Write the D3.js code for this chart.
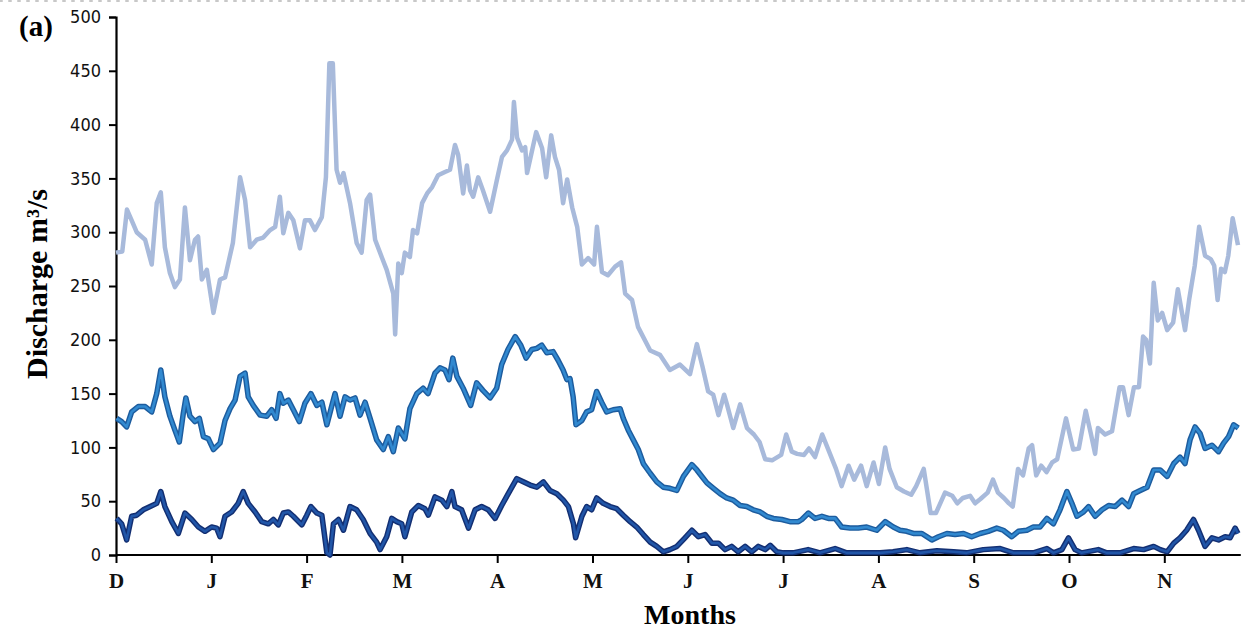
<!DOCTYPE html>
<html>
<head>
<meta charset="utf-8">
<script src="https://cdn.jsdelivr.net/npm/d3@7"></script>
<style>
  body { margin: 0; background: #fff; }
  svg { display: block; }
</style>
</head>
<body>
<svg id="chart"></svg>
<script>
// month tick labels, Dec .. Nov
const months = ["D", "J", "F", "M", "A", "M", "J", "J", "A", "S", "O", "N"];
const yTicks = [0, 50, 100, 150, 200, 250, 300, 350, 400, 450, 500];

// [day since 1 Dec, discharge m3/s]
const upperSeries = [
  [0,281],[2,282],[3.5,321],[5,311],[6.6,300],[9.3,293],[11.4,270],[13,327],[14.3,337],[15.6,286],
  [17.2,262],[18.8,249],[20.4,256],[22,323],[23.6,274],[25.2,293],[26.2,296],[27.4,256],[29,265],
  [31.1,225],[33.2,256],[34.8,258],[37.3,290],[39.6,351],[41.2,330],[42.8,286],[44.9,293],[47,295],
  [49.2,302],[50.8,305],[52.3,333],[53.4,299],[55,318],[56.6,311],[58.7,285],[60.3,311],[61.9,311],
  [63.5,302],[65.7,314],[67,351],[68.1,457],[69.2,457],[70.4,358],[71.5,346],[72.6,355],[74.7,327],
  [76.8,290],[78.4,281],[80,330],[81.1,335],[82.7,293],[84.8,277],[86.4,265],[88.5,243],[89.1,205],
  [90.1,271],[91.2,262],[92.2,281],[93.8,277],[94.8,302],[96.1,299],[97.7,327],[99.3,336],[100.9,342],
  [102.8,353],[105,356],[106.6,358],[108.2,381],[109.2,372],[110.8,336],[112,362],[113,339],[114,333],
  [115.6,351],[117.1,339],[119.4,319],[121.6,349],[123.2,370],[124.8,376],[126.4,386],[127,421],
  [128,388],[129.6,376],[130.6,379],[131.2,355],[132.8,376],[134.1,393],[136,378],[137.3,351],
  [138.9,390],[140.1,370],[141.4,358],[142.7,327],[144,349],[145.6,323],[147.2,305],[148.7,270],
  [150.7,276],[152.6,270],[153.5,305],[155.1,263],[157,260],[159.3,268],[161.2,272],[162.5,243],
  [164.7,237],[166.6,212],[170.5,190],[173.6,186],[176.8,172],[180,177],[183.2,168],[185.4,196],
  [187.2,175],[189,152],[190.6,149],[192.3,130],[194.1,149],[195,140],[197,118],[199.2,140],[201.4,118],
  [203.6,112],[205.4,105],[207.2,89],[209.4,88],[212.3,93],[213.9,112],[215.7,96],[217.4,94],[219.6,93],
  [221.2,99],[223.1,91],[225.4,112],[227.6,96],[229.8,80],[231.6,64],[233.8,83],[235.6,70],[237.8,83],
  [239.6,64],[241.8,86],[243.5,66],[245.5,100],[246.9,80],[249.2,63],[251.5,59],[253.8,56],[255.4,64],
  [257.8,80],[260,39],[261.7,39],[264.6,58],[266.9,55],[268.5,48],[270.3,53],[272.6,55],[274.2,48],
  [275.9,52],[278.2,58],[279.9,70],[281.5,58],[283.4,53],[285,48],[286.2,45],[287.9,80],[289.5,74],
  [291.3,99],[292.4,102],[293.7,74],[295.3,83],[297,77],[298.8,86],[300.4,89],[303.2,127],[305.5,98],
  [307.3,99],[309.5,134],[311.2,112],[312.5,94],[313.4,118],[315.7,112],[317.9,115],[320.3,156],
  [321.4,156],[323.2,130],[324.9,156],[326.5,156],[327.8,203],[328.8,200],[330,178],[331.2,253],
  [332.5,218],[333.9,225],[335.5,209],[337.4,216],[338.9,247],[341.2,209],[342.5,237],[344.3,269],
  [345.7,305],[347.6,278],[349.4,275],[350.5,269],[351.6,237],[352.7,266],[353.9,263],[355,278],
  [356.4,313],[358.1,288]
];

const middleSeries = [
  [0.2,127],[1.8,124],[3.4,119],[5,133],[7.1,138],[9.3,138],[11.4,133],[13,150],[14.3,172],[15.6,147],
  [17.2,129],[18.8,116],[20.2,105],[21.5,132],[22.3,146],[23.6,129],[25.2,124],[26.6,127],[27.9,110],
  [29.5,108],[31.1,98],[33.2,104],[34.8,125],[36.4,136],[38,144],[39.6,166],[41.2,169],[42.2,147],
  [43.8,139],[46,130],[48.1,129],[49.7,135],[51.1,127],[52.3,150],[53.4,141],[55,144],[56.6,135],
  [58.5,124],[60.3,141],[62.2,150],[64.1,139],[65.7,142],[67.3,121],[68.9,139],[69.9,150],[71.5,129],
  [73.1,147],[74.7,144],[76.3,146],[77.9,130],[79.5,142],[81.1,127],[83.2,107],[85.3,98],[86.9,110],
  [88.5,96],[90.1,118],[92.2,108],[93.8,136],[96,150],[98,155],[99.6,150],[101.8,169],[103.4,174],
  [105,172],[106.3,163],[107.5,183],[108.8,166],[110.8,155],[113.2,139],[115.1,160],[117.1,153],
  [119.4,146],[121.5,155],[123.1,177],[125.1,191],[127.4,203],[129.2,195],[130.9,183],[132.7,191],
  [134.3,192],[135.9,195],[137.5,188],[139.5,189],[141.1,181],[142.7,172],[143.9,163],[144.9,164],
  [145.9,147],[146.8,121],[148.7,125],[150.2,133],[151.8,135],[153.4,152],[155,142],[156.6,133],
  [158.7,135],[160.9,136],[161.9,127],[163.5,116],[165.1,107],[166.7,98],[168.3,85],[170.5,76],
  [172.6,68],[174.7,63],[176.8,62],[179,60],[181.1,73],[183.8,84],[185.4,79],[187,73],[188.6,67],
  [190.7,62],[192.8,57],[194.9,53],[197,51],[199.2,46],[201.3,45],[203.4,42],[205.6,40],[207.7,36],
  [209.8,34],[212.5,33],[215.1,31],[217.8,31],[218.9,33],[221,39],[223.1,34],[225.3,36],[227.4,34],
  [229.5,34],[231.6,26],[234.3,25],[236.9,25],[239.6,26],[242.8,23],[245.5,31],[248.1,26],[250.2,23],
  [252.4,22],[254.5,20],[257.2,20],[260.4,14],[262.5,17],[265.2,20],[267.8,19],[270.5,20],[273.1,17],
  [275.8,20],[278.4,22],[281.1,25],[283.2,23],[285.9,17],[288,22],[290.7,23],[292.8,26],[294.9,26],
  [297.1,34],[299.2,29],[301.3,42],[303.5,59],[305.1,48],[306.7,36],[308.8,40],[310.4,45],[312.5,36],
  [314.7,42],[316.8,46],[318.9,45],[321.1,51],[323.2,45],[324.8,57],[326.9,60],[329.1,63],[331.2,79],
  [333.3,79],[335.5,73],[337.6,85],[339.6,91],[341.2,85],[342.8,107],[344.4,119],[346,113],[347.6,99],
  [349.8,102],[351.9,96],[353.5,104],[355.1,110],[356.7,121],[358.2,118]
];

const lowerSeries = [
  [0.2,34],[1.8,29],[3.4,14],[5,36],[6.6,37],[8.7,42],[10.9,45],[13,48],[14.3,59],[15.6,45],[17.8,31],
  [19.9,20],[22,39],[24.2,33],[26.3,26],[28.4,22],[30.5,26],[32.1,25],[33.2,17],[34.8,36],[36.9,40],
  [39,48],[40.6,59],[42.2,48],[44.4,40],[46.5,31],[48.6,29],[50.2,33],[51.8,28],[53.4,39],[55,40],
  [56.6,36],[59.3,28],[60.9,37],[62.2,45],[64.1,39],[65.7,37],[67.3,2],[68.3,0],[69.4,29],[71,33],
  [72.6,23],[74.7,45],[76.8,42],[78.9,33],[81.1,20],[83.2,12],[84.3,5],[86.4,17],[88,34],[89.6,31],
  [91.2,29],[92.2,17],[94.4,40],[96.5,46],[98.6,43],[99.7,37],[101.8,54],[104,51],[105.6,45],[107.2,59],
  [108.2,45],[110.3,42],[112.5,25],[114.6,42],[116.7,45],[118.8,42],[121,34],[123.1,46],[125.2,57],
  [127.9,71],[130,68],[132.2,65],[134.3,63],[136.4,68],[138.5,60],[140.7,57],[142.8,51],[144.4,45],
  [146,29],[146.7,16],[148.7,36],[150.2,45],[151.8,42],[153.4,53],[155.5,48],[157.7,45],[159.8,43],
  [161.9,37],[164.1,31],[166.2,26],[168.3,19],[170.5,12],[172.6,8],[174.7,3],[176.8,5],[179,8],
  [181.6,16],[183.8,23],[185.9,17],[188,19],[190.2,11],[192.3,11],[194.4,5],[196.5,8],[198.6,3],
  [200.8,8],[202.9,3],[205,8],[207.2,5],[208.8,9],[210.9,3],[213,2],[216.1,2],[220.9,5],[224.7,2],
  [229.5,6],[233.2,2],[238.4,2],[243.9,2],[248,3],[252.4,5],[256.6,2],[262,4],[267.3,3],[271.5,2],
  [276.8,5],[282.2,6],[286.4,2],[292.8,2],[297.1,6],[299.2,2],[301.9,5],[304,16],[306.1,5],[308.2,2],
  [313.5,5],[316.2,2],[320.5,2],[324.8,6],[328,5],[331.2,8],[333.3,5],[335.5,3],[337.6,11],[339.6,16],
  [341.7,23],[343.9,33],[345.5,23],[347.6,8],[349.8,16],[351.9,14],[354,17],[355.6,16],[357.2,25],[358.1,20]
];

const W = 1249, H = 633;
const svg = d3.select("#chart").attr("width", W).attr("height", H);

const x = d3.scaleLinear().domain([0, 365]).range([116, 1259.6]);
const y = d3.scaleLinear().domain([0, 500]).range([555, 17]);

// dotted frame edge at the top
svg.append("line")
  .attr("x1", 0).attr("x2", W).attr("y1", 1).attr("y2", 1)
  .attr("stroke", "#c8c8c8").attr("stroke-width", 2)
  .attr("stroke-dasharray", "2,7").attr("stroke-linecap", "round");

// y axis
const yAxis = d3.axisLeft(y).tickValues(yTicks).tickSize(7).tickPadding(8);
const gy = svg.append("g").attr("transform", "translate(116,0)").call(yAxis);
gy.select(".domain").attr("stroke", "#000").attr("stroke-width", 2.2);
gy.selectAll(".tick line").attr("stroke", "#000").attr("stroke-width", 2);
gy.selectAll(".tick text")
  .attr("font-family", "DejaVu Sans Condensed, DejaVu Sans, sans-serif")
  .attr("font-stretch", "condensed")
  .attr("font-size", 18)
  .attr("fill", "#111");

// x axis, one tick per month
const monthStart = months.map((m, i) => i * 365 / 12);
const xAxis = d3.axisBottom(x)
  .tickValues(monthStart)
  .tickFormat((d, i) => months[i])
  .tickSize(8).tickSizeOuter(0).tickPadding(10);
const gx = svg.append("g").attr("transform", "translate(0,555)").call(xAxis);
gx.select(".domain").attr("stroke", "#000").attr("stroke-width", 2.2)
  .attr("d", `M${x(0)},0H${x(359)}`);
gx.selectAll(".tick line").attr("stroke", "#000").attr("stroke-width", 2);
gx.selectAll(".tick text")
  .attr("font-family", "Liberation Serif, serif")
  .attr("font-weight", "bold")
  .attr("font-size", 21)
  .attr("fill", "#111");

const line = d3.line()
  .x(d => x(d[0]))
  .y(d => y(d[1]));

// light series
svg.append("path")
  .datum(upperSeries)
  .attr("d", line)
  .attr("fill", "none")
  .attr("stroke", "#a8badb")
  .attr("stroke-width", 4.5)
  .attr("stroke-linejoin", "round");

// medium and dark series: darker rim with lighter core
const drawRimmed = (data, rim, core) => {
  svg.append("path").datum(data).attr("d", line)
    .attr("fill", "none").attr("stroke", rim)
    .attr("stroke-width", 5.5).attr("stroke-linejoin", "round");
  svg.append("path").datum(data).attr("d", line)
    .attr("fill", "none").attr("stroke", core)
    .attr("stroke-width", 2.6).attr("stroke-linejoin", "round");
};
drawRimmed(middleSeries, "#1d5c9e", "#3189d0");
drawRimmed(lowerSeries, "#132f72", "#2156a8");

// labels
svg.append("text")
  .attr("x", 690).attr("y", 624)
  .attr("text-anchor", "middle")
  .attr("font-family", "Liberation Serif, serif")
  .attr("font-weight", "bold")
  .attr("font-size", 28)
  .text("Months");

svg.append("text")
  .attr("transform", "translate(47,284) rotate(-90)")
  .attr("text-anchor", "middle")
  .attr("font-family", "Liberation Serif, serif")
  .attr("font-weight", "bold")
  .attr("font-size", 30)
  .text("Discharge m³/s");

svg.append("text")
  .attr("x", 19).attr("y", 36)
  .attr("font-family", "Liberation Serif, serif")
  .attr("font-weight", "bold")
  .attr("font-size", 29)
  .text("(a)");
</script>
</body>
</html>
